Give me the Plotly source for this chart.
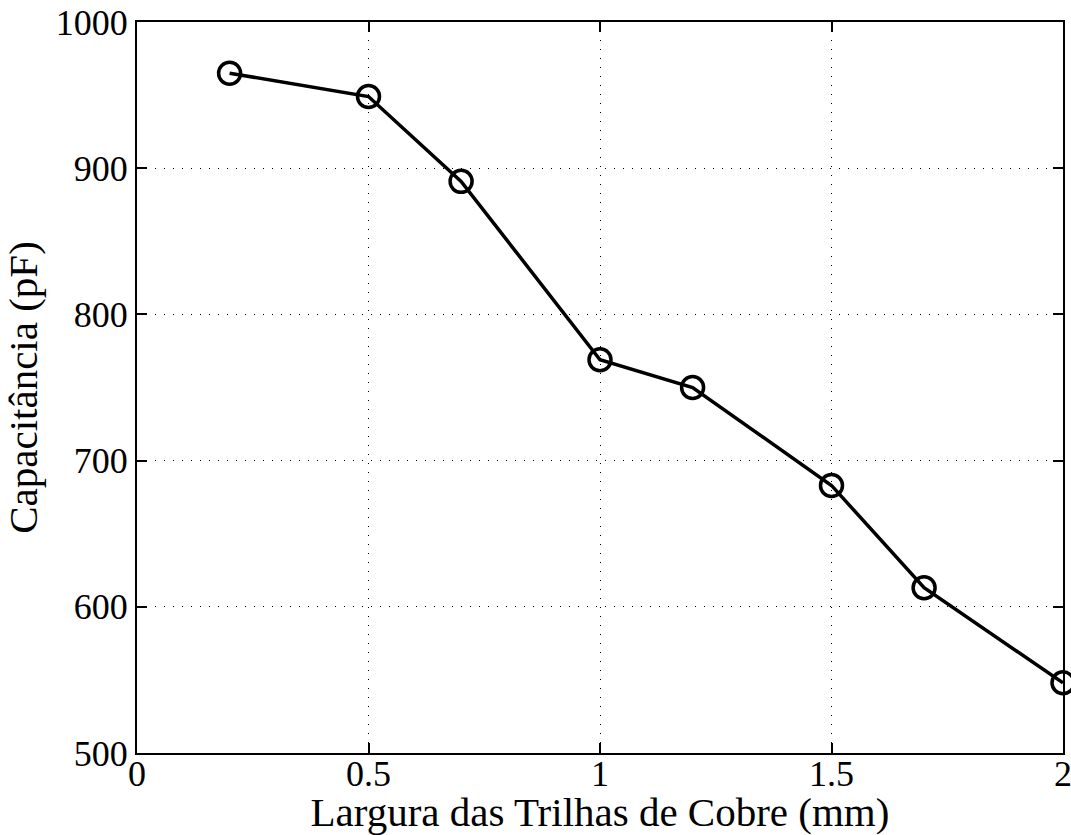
import plotly.graph_objects as go

largura_mm = [0.2, 0.5, 0.7, 1.0, 1.2, 1.5, 1.7, 2.0]
capacitancia_pf = [965, 949, 891, 769, 750, 683, 613, 548]

x_ticks = [0, 0.5, 1, 1.5, 2]
x_tick_labels = ["0", "0.5", "1", "1.5", "2"]
y_ticks = [500, 600, 700, 800, 900, 1000]
y_tick_labels = ["500", "600", "700", "800", "900", "1000"]

font_family = "Liberation Serif, Times New Roman, serif"

fig = go.Figure()
fig.add_trace(
    go.Scatter(
        x=largura_mm,
        y=capacitancia_pf,
        mode="lines+markers",
        line=dict(color="black", width=3.5),
        marker=dict(
            symbol="circle-open",
            size=22,
            color="black",
            line=dict(color="black", width=3.5),
        ),
        cliponaxis=False,
        showlegend=False,
    )
)

axis_common = dict(
    showline=True,
    linecolor="black",
    linewidth=2,
    mirror="ticks",
    ticks="inside",
    ticklen=10,
    tickwidth=1.5,
    tickcolor="black",
    showgrid=True,
    gridcolor="black",
    gridwidth=1,
    griddash="1px,8px",
    zeroline=False,
    automargin=False,
    ticklabeloverflow="allow",
    tickfont=dict(family=font_family, size=36, color="black"),
    title_font=dict(family=font_family, size=41, color="black"),
)

fig.update_xaxes(
    range=[0, 2],
    tickvals=x_ticks,
    ticktext=x_tick_labels,
    ticklabelstandoff=-12,
    title_text="Largura das Trilhas de Cobre (mm)",
    title_standoff=4,
    **axis_common,
)
fig.update_yaxes(
    range=[500, 1000],
    tickvals=y_ticks,
    ticktext=y_tick_labels,
    title_text="Capacitância (pF)",
    title_standoff=12,
    **axis_common,
)

fig.update_layout(
    width=1071,
    height=835,
    margin=dict(l=137, r=8, t=22, b=82),
    plot_bgcolor="white",
    paper_bgcolor="white",
    font=dict(family=font_family, color="black"),
)

# the page body has a default 8px margin; drop it so the figure sits at the window corner
fig.write_html(
    "out.html",
    config={"displayModeBar": False},
    post_script="document.body.style.margin='0';document.body.style.overflow='hidden';",
)
